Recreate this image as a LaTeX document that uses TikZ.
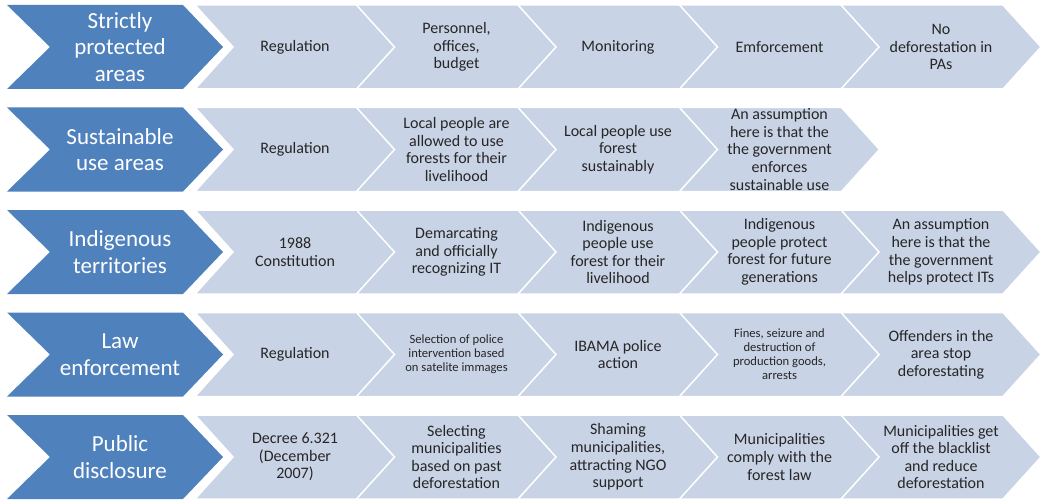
\documentclass[tikz,border=0pt]{standalone}
\usepackage{fontspec}
\setmainfont{Carlito}
\definecolor{headblue}{HTML}{4F81BD}
\definecolor{celllight}{HTML}{C9D3E6}
\definecolor{celltext}{HTML}{262626}

\newcommand{\headchev}[1]{\fill[headblue] (7,#1) -- ++(176,0) -- ++(40,42) -- ++(-40,42) -- ++(-176,0) -- ++(43,-42) -- cycle;}
\newcommand{\cellchev}[2]{\filldraw[fill=celllight,draw=white,line width=1.5pt] (#1,#2) -- ++(162,0) -- ++(38,42) -- ++(-38,42) -- ++(-162,0) -- ++(38,-42) -- cycle;}

\begin{document}
\begin{tikzpicture}[x=1pt, y=-1pt,
    head/.style={text=white, align=center, font=\fontsize{23}{26.5}\selectfont},
    cell/.style={text=celltext, align=center, font=\fontsize{16}{17.6}\selectfont},
    small/.style={cell, font=\fontsize{12.6}{14}\selectfont}]

    \useasboundingbox (0,0) rectangle (1045,503);

    % chevrons
    \foreach \T in {5,107.5,210,312.5,415} {\headchev{\T}}
    \foreach \T in {5,210,312.5,415}
        \foreach \L in {195,356.5,518,679.5,841} {\cellchev{\L}{\T}}
    \foreach \L in {195,356.5,518,679.5} {\cellchev{\L}{107.5}}

    % strictly protected areas
    \node (h1) at (120,47) [head] {Strictly\\protected\\areas};
    \node (c11) at (295,47) [cell] {Regulation};
    \node (c12) at (456.5,47) [cell] {Personnel,\\offices,\\budget};
    \node (c13) at (618,47) [cell] {Monitoring};
    \node (c14) at (779.5,47) [cell] {Emforcement};
    \node (c15) at (941,47) [cell] {No\\deforestation in\\PAs};

    % sustainable use areas
    \node (h2) at (120,149.5) [head] {Sustainable\\use areas};
    \node (c21) at (295,149.5) [cell] {Regulation};
    \node (c22) at (456.5,149.5) [cell] {Local people are\\allowed to use\\forests for their\\livelihood};
    \node (c23) at (618,149.5) [cell] {Local people use\\forest\\sustainably};
    \node (c24) at (779.5,149.5) [cell] {An assumption\\here is that the\\the government\\enforces\\sustainable use};

    % indigenous territories
    \node (h3) at (120,252) [head] {Indigenous\\territories};
    \node (c31) at (295,252) [cell] {1988\\Constitution};
    \node (c32) at (456.5,252) [cell] {Demarcating\\and officially\\recognizing IT};
    \node (c33) at (618,252) [cell] {Indigenous\\people use\\forest for their\\livelihood};
    \node (c34) at (779.5,252) [cell] {Indigenous\\people protect\\forest for future\\generations};
    \node (c35) at (941,252) [cell] {An assumption\\here is that the\\the government\\helps protect ITs};

    % law enforcement
    \node (h4) at (120,354.5) [head] {Law\\enforcement};
    \node (c41) at (295,354.5) [cell] {Regulation};
    \node (c42) at (456.5,354.5) [small] {Selection of police\\intervention based\\on satelite immages};
    \node (c43) at (618,354.5) [cell] {IBAMA police\\action};
    \node (c44) at (779.5,354.5) [small] {Fines, seizure and\\destruction of\\production goods,\\arrests};
    \node (c45) at (941,354.5) [cell] {Offenders in the\\area stop\\deforestating};

    % public disclosure
    \node (h5) at (120,457) [head] {Public\\disclosure};
    \node (c51) at (295,457) [cell] {Decree 6.321\\(December\\2007)};
    \node (c52) at (456.5,457) [cell] {Selecting\\municipalities\\based on past\\deforestation};
    \node (c53) at (618,457) [cell] {Shaming\\municipalities,\\attracting NGO\\support};
    \node (c54) at (779.5,457) [cell] {Municipalities\\comply with the\\forest law};
    \node (c55) at (941,457) [cell] {Municipalities get\\off the blacklist\\and reduce\\deforestation};
\end{tikzpicture}
\end{document}
